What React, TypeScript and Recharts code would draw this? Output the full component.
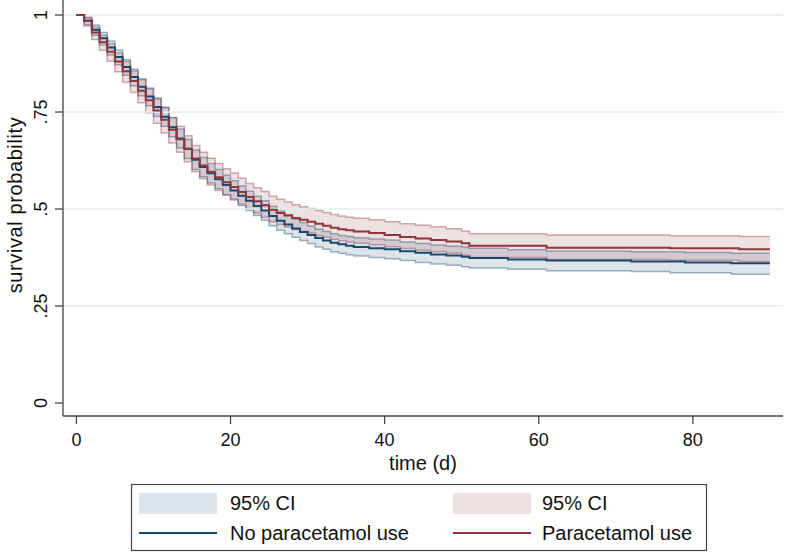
import {
  ComposedChart,
  Area,
  Line,
  XAxis,
  YAxis,
  ReferenceLine,
  Label,
} from 'recharts';

// Kaplan-Meier estimates (time in days)
const days = [
  0, 1, 2, 3, 4, 5, 6, 7, 8, 9, 10, 11, 12, 13, 14, 15, 16, 17, 18, 19, 20,
  21, 22, 23, 24, 25, 26, 27, 28, 29, 30, 31, 32, 33, 34, 35, 36, 38, 40, 42,
  44, 46, 48, 50, 51, 56, 61, 72, 77, 79, 85, 86, 90,
];

const noParaSurv = [
  1, 0.985, 0.962, 0.94, 0.916, 0.892, 0.866, 0.84, 0.815, 0.79, 0.763, 0.738,
  0.711, 0.682, 0.655, 0.627, 0.608, 0.592, 0.577, 0.562, 0.548, 0.534, 0.521,
  0.508, 0.496, 0.482, 0.47, 0.46, 0.45, 0.441, 0.433, 0.425, 0.419, 0.413,
  0.409, 0.405, 0.402, 0.399, 0.396, 0.391, 0.387, 0.383, 0.38, 0.377, 0.374,
  0.37, 0.367, 0.365, 0.365, 0.362, 0.36, 0.36, 0.36,
];
const noParaLo = [
  1, 0.975, 0.948, 0.923, 0.897, 0.872, 0.845, 0.818, 0.792, 0.766, 0.739,
  0.713, 0.686, 0.657, 0.63, 0.602, 0.583, 0.567, 0.552, 0.537, 0.523, 0.509,
  0.496, 0.483, 0.471, 0.457, 0.445, 0.436, 0.427, 0.419, 0.411, 0.402, 0.396,
  0.39, 0.386, 0.382, 0.379, 0.375, 0.372, 0.367, 0.362, 0.358, 0.355, 0.351,
  0.348, 0.345, 0.341, 0.339, 0.336, 0.336, 0.332, 0.332, 0.332,
];
const noParaHi = [
  1, 0.993, 0.974, 0.955, 0.933, 0.91, 0.885, 0.86, 0.836, 0.812, 0.786, 0.762,
  0.735, 0.706, 0.679, 0.652, 0.633, 0.617, 0.602, 0.587, 0.573, 0.559, 0.546,
  0.533, 0.521, 0.507, 0.495, 0.485, 0.474, 0.465, 0.456, 0.448, 0.442, 0.436,
  0.432, 0.429, 0.426, 0.423, 0.42, 0.415, 0.411, 0.407, 0.404, 0.402, 0.399,
  0.395, 0.392, 0.39, 0.39, 0.388, 0.386, 0.386, 0.386,
];

const paraSurv = [
  1, 0.985, 0.955, 0.93, 0.905, 0.88, 0.855, 0.83, 0.805, 0.78, 0.754, 0.73,
  0.704, 0.68, 0.655, 0.63, 0.612, 0.596, 0.582, 0.569, 0.557, 0.544, 0.531,
  0.52, 0.51, 0.498, 0.49, 0.483, 0.477, 0.472, 0.467, 0.462, 0.457, 0.452,
  0.448, 0.445, 0.442, 0.438, 0.433, 0.428, 0.424, 0.42, 0.416, 0.412, 0.405,
  0.405, 0.4, 0.4, 0.399, 0.399, 0.399, 0.396, 0.396,
];
const paraLo = [
  1, 0.972, 0.937, 0.909, 0.881, 0.854, 0.827, 0.8, 0.774, 0.748, 0.721, 0.696,
  0.67, 0.646, 0.621, 0.596, 0.578, 0.562, 0.548, 0.536, 0.526, 0.513, 0.5,
  0.49, 0.479, 0.467, 0.46, 0.453, 0.447, 0.442, 0.438, 0.432, 0.427, 0.422,
  0.418, 0.415, 0.412, 0.408, 0.403, 0.398, 0.394, 0.39, 0.386, 0.381, 0.375,
  0.375, 0.37, 0.37, 0.368, 0.368, 0.368, 0.365, 0.365,
];
const paraHi = [
  1, 0.994, 0.969, 0.948, 0.926, 0.903, 0.88, 0.856, 0.833, 0.809, 0.784, 0.761,
  0.736, 0.713, 0.689, 0.664, 0.646, 0.631, 0.617, 0.604, 0.593, 0.579, 0.566,
  0.555, 0.545, 0.533, 0.525, 0.518, 0.511, 0.506, 0.501, 0.496, 0.491, 0.486,
  0.482, 0.479, 0.476, 0.472, 0.467, 0.462, 0.458, 0.454, 0.449, 0.443, 0.436,
  0.436, 0.433, 0.433, 0.431, 0.431, 0.431, 0.429, 0.429,
];

const xTicks = [0, 20, 40, 60, 80];
const yTicks = [0, 0.25, 0.5, 0.75, 1];
const yTickLabels = ['0', '.25', '.5', '.75', '1'];
const gridValues = [0.25, 0.5, 0.75, 1];

const NAVY = '#1a476f';
const MAROON = '#90353b';

const rows = days.map((t, i) => ({
  t,
  noPara: noParaSurv[i],
  noParaCI: [noParaLo[i], noParaHi[i]],
  para: paraSurv[i],
  paraCI: [paraLo[i], paraHi[i]],
}));

function YTick({ y, payload }: any) {
  const label = yTickLabels[yTicks.indexOf(payload.value)];
  return (
    <text
      x={47}
      y={y}
      transform={`rotate(-90 47 ${y})`}
      textAnchor="middle"
      fontSize={18}
      fill="#111"
    >
      {label}
    </text>
  );
}

function ChartLegend() {
  return (
    <svg
      width={786}
      height={555}
      style={{ position: 'absolute', left: 0, top: 0, pointerEvents: 'none' }}
    >
      <rect x={131.5} y={484.5} width={575} height={66} fill="#fff" stroke="#444" strokeWidth={1.2} />
      <rect x={139} y={493} width={78} height={21} fill={NAVY} fillOpacity={0.15} />
      <text x={230} y={510} fontSize={20} fill="#111">95% CI</text>
      <line x1={139} x2={217} y1={533} y2={533} stroke={NAVY} strokeWidth={2} />
      <text x={230} y={540} fontSize={20} fill="#111">No paracetamol use</text>
      <rect x={453} y={493} width={78} height={21} fill={MAROON} fillOpacity={0.15} />
      <text x={542} y={510} fontSize={20} fill="#111">95% CI</text>
      <line x1={453} x2={531} y1={533} y2={533} stroke={MAROON} strokeWidth={2} />
      <text x={542} y={540} fontSize={20} fill="#111">Paracetamol use</text>
    </svg>
  );
}

export default function App() {
  return (
    <div
      style={{
        position: 'absolute',
        left: 0,
        top: 0,
        width: 786,
        height: 555,
        background: '#fff',
        fontFamily: '"Liberation Sans", Arial, sans-serif',
      }}
    >
      <ComposedChart
        width={786}
        height={555}
        data={rows}
        margin={{ top: 0, right: 3, bottom: 79, left: 0 }}
      >
        <XAxis
          type="number"
          dataKey="t"
          domain={[-1.74, 91.7]}
          allowDataOverflow
          ticks={xTicks}
          height={60}
          tickSize={8}
          tickMargin={9}
          stroke="#444"
          strokeWidth={1.3}
          tick={{ fill: '#111', fontSize: 18 }}
        >
          <Label
            content={() => (
              <text x={423} y={470} textAnchor="middle" fontSize={20} fill="#111">
                time (d)
              </text>
            )}
          />
        </XAxis>
        <YAxis
          type="number"
          domain={[-0.0335, 1.0387]}
          allowDataOverflow
          ticks={yTicks}
          width={63}
          tickSize={8}
          stroke="#444"
          strokeWidth={1.3}
          tick={<YTick />}
        >
          <Label
            content={() => (
              <text
                x={22}
                y={205}
                transform="rotate(-90 22 205)"
                textAnchor="middle"
                fontSize={20}
                letterSpacing={0.6}
                fill="#111"
              >
                survival probability
              </text>
            )}
          />
        </YAxis>
        {gridValues.map((v) => (
          <ReferenceLine key={v} y={v} stroke="#e3ecef" strokeWidth={1.6} />
        ))}
        <Area
          type="stepAfter"
          dataKey="noParaCI"
          fill={NAVY}
          fillOpacity={0.15}
          stroke={NAVY}
          strokeOpacity={0.4}
          strokeWidth={1.5}
          isAnimationActive={false}
        />
        <Area
          type="stepAfter"
          dataKey="paraCI"
          fill={MAROON}
          fillOpacity={0.15}
          stroke={MAROON}
          strokeOpacity={0.4}
          strokeWidth={1.5}
          isAnimationActive={false}
        />
        <Line
          type="stepAfter"
          dataKey="noPara"
          stroke={NAVY}
          strokeWidth={2}
          dot={false}
          isAnimationActive={false}
        />
        <Line
          type="stepAfter"
          dataKey="para"
          stroke={MAROON}
          strokeWidth={2}
          dot={false}
          isAnimationActive={false}
        />
      </ComposedChart>
      <ChartLegend />
    </div>
  );
}
